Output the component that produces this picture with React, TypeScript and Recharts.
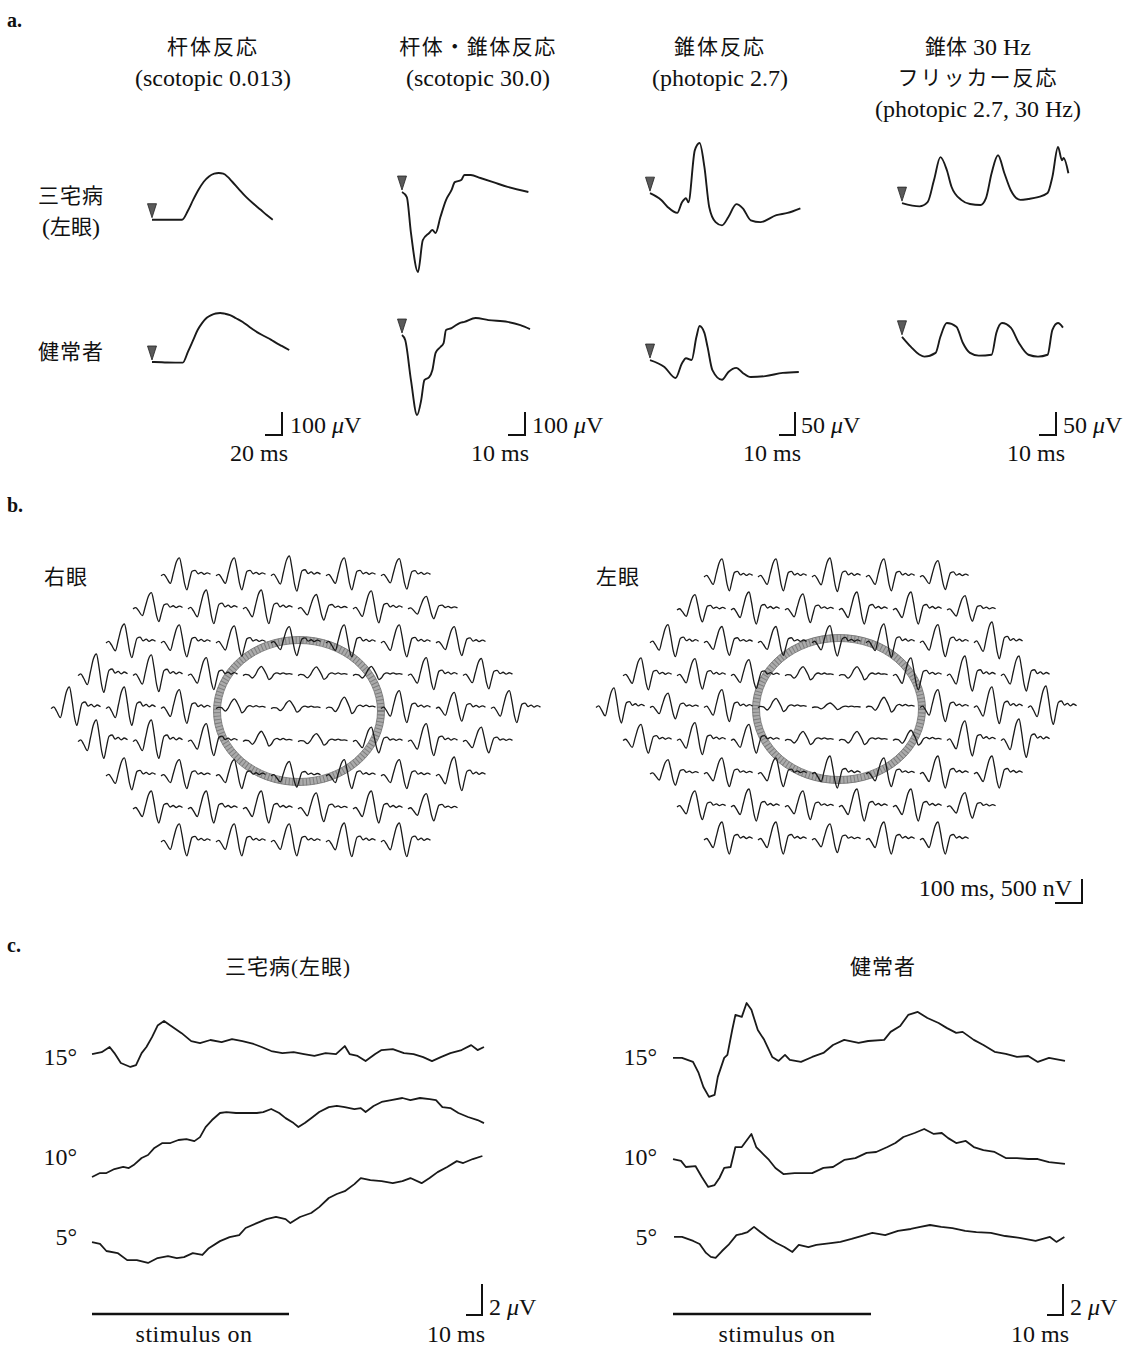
import React from "react";
import { LineChart, Line, XAxis, YAxis } from "recharts";

const FONT = '"Liberation Serif", "DejaVu Serif", "Noto Sans CJK JP", serif';
const INK = "#1a1a1a";

// ---- a. full-field ERG (t in ms, v in µV) ----
const rodPatT = [0, 3, 20, 40, 48, 55, 62, 69, 76, 83, 89, 95, 101, 107, 116, 125, 135, 145, 153, 161];
const rodPatV = [0, 0, 0, 0, 40, 87, 130, 165, 188, 200, 203, 200, 186, 165, 132, 100, 70, 43, 20, 0];
const rodNorT = [0, 3, 20, 41, 48, 55, 61, 67, 73, 79, 85, 91, 97, 104, 112, 121, 130, 140, 150, 159, 166, 173, 183];
const rodNorV = [0, 0, -2, -3, 45, 96, 140, 170, 192, 204, 211, 213, 210, 204, 190, 174, 152, 130, 112, 96, 82, 70, 52];

const mixPatT = [0, 3, 5.6, 10, 13, 17, 19, 21, 24, 27.5, 31, 33, 37, 39, 43, 49, 57, 66, 79];
const mixPatV = [0, -22, -178, -348, -209, -178, -165, -178, -109, -35, 9, 43, 52, 74, 74, 61, 43, 22, 0];
const mixNorT = [0, 2, 5.6, 9.4, 12, 14, 17, 19, 21, 24, 26, 27.5, 31, 33, 36, 39, 46, 54, 66, 74, 80];
const mixNorV = [0, -22, -196, -348, -283, -196, -183, -152, -78, -52, -35, 22, 30, 39, 52, 57, 74, 65, 57, 43, 26];

const conePatT = [0, 7, 11, 17, 20, 22.5, 24, 28, 31, 34, 37, 41, 45, 49, 54, 58, 63, 69, 79, 86, 94];
const conePatV = [0, -15, -30, -43, -20, -11, -20, 93, 109, 57, -30, -63, -70, -52, -24, -33, -59, -63, -48, -43, -33];
const coneNorT = [0, 9, 16, 20, 22.5, 26, 29, 31, 34, 36, 39, 45, 49, 54, 58, 63, 72, 83, 93];
const coneNorV = [0, -15, -39, -7, 4, 0, 50, 74, 59, 28, -22, -43, -26, -17, -28, -37, -35, -28, -26];

const flkPatT = [0, 11, 16, 20, 24, 28, 31, 37, 42.5, 49, 52.5, 56, 60, 64, 68, 74, 79, 85, 91, 94, 97.5, 100, 101, 104];
const flkPatV = [0, -7, 2, 50, 100, 72, 35, 7, -2, -4, 11, 65, 104, 65, 28, 7, 9, 13, 22, 57, 122, 93, 98, 65];
const flkNorT = [0, 5.6, 11, 14, 21, 24, 28, 34, 38, 42.5, 48, 56, 59, 62.5, 68, 73, 79, 85, 91, 94, 97.5, 100.6];
const flkNorV = [0, -22, -39, -43, -35, 0, 30, 22, -13, -35, -41, -39, 9, 30, 20, -13, -39, -43, -39, 15, 30, 20];

// ---- b. multifocal ERG (one response: t in ms, v in nV) ----
const MF_WINDOW = 200;
const MF_T = [0, 10, 20, 34, 45, 56, 67, 76, 86, 94, 103, 113, 124, 135, 146, 157, 168, 180];
const MF_PERIPH = [0, 30, -40, -150, 60, 280, 360, 150, -160, -280, -100, 90, 110, 40, 70, 30, 60, 30];
const MF_CENTRAL = [0, 30, 20, -60, 20, 160, 230, 150, 20, -100, -60, 40, 70, 40, 70, 40, 50, 30];

const rightAmp = [
  [1.0, 1.0, 1.1, 1.0, 0.95],
  [0.9, 1.05, 1.05, 0.8, 1.0, 0.7],
  [1.05, 1.0, 0.95, 0.9, 1.0, 1.0, 0.9],
  [1.2, 1.15, 1.0, 0.8, 0.75, 0.8, 1.0, 0.95],
  [1.2, 1.2, 1.05, 0.85, 0.7, 1.0, 1.0, 0.9, 1.0],
  [1.2, 1.2, 1.0, 0.9, 0.7, 0.8, 1.0, 0.8],
  [1.0, 0.9, 0.9, 0.8, 0.9, 0.9, 1.05],
  [1.0, 1.0, 1.0, 0.9, 1.0, 0.85],
  [1.0, 1.0, 1.0, 1.05, 1.05],
];
const rightKind = ["ppppp", "pppppp", "ppppppp", "pppcccpp", "pppcccppp", "pppccppp", "ppppppp", "pppppp", "ppppp"];

const leftAmp = [
  [1.0, 1.0, 1.05, 1.0, 0.9],
  [0.85, 1.0, 0.9, 1.0, 1.0, 0.8],
  [1.0, 0.9, 0.9, 0.95, 1.05, 1.0, 1.15],
  [1.0, 0.95, 0.9, 0.8, 0.8, 1.0, 1.1, 1.1],
  [1.1, 0.8, 1.0, 0.8, 0.4, 0.9, 1.0, 1.15, 1.2],
  [0.9, 1.0, 0.9, 0.8, 0.8, 0.9, 1.1, 1.2],
  [0.8, 0.9, 0.9, 1.0, 0.9, 1.0, 1.0],
  [0.9, 1.0, 0.9, 1.0, 1.0, 0.8],
  [1.0, 1.0, 0.9, 1.0, 1.0],
];
const leftKind = ["ppppp", "pppppp", "ppppppp", "pppccppp", "pppcccppp", "pppcccpp", "ppppppp", "pppppp", "ppppp"];

// ---- c. focal macular ERG (t in ms, v in µV) ----
const pat15T = [0, 6, 11, 14, 18, 24, 27.5, 31, 34, 37.5, 41, 45, 49, 56, 62, 67.5, 74, 81, 87.5, 94, 101, 106, 112, 119, 126, 132.5, 139, 146, 152.5, 158, 161, 166, 171, 177, 181, 188, 195, 201, 207, 212.5, 218, 224, 231, 237, 241, 245];
const pat15V = [0, 0.1, 0.37, 0.05, -0.47, -0.68, -0.58, 0.05, 0.37, 0.89, 1.5, 1.74, 1.5, 1.1, 0.68, 0.58, 0.74, 0.63, 0.79, 0.68, 0.53, 0.37, 0.16, 0.05, 0.1, 0, -0.1, 0.05, 0, 0.42, 0, -0.1, -0.37, 0, 0.21, 0.26, 0.05, 0, -0.16, -0.37, -0.16, 0.05, 0.21, 0.47, 0.21, 0.37];
const pat10T = [0, 5, 9, 14, 19.5, 23, 26, 31, 35, 39, 44, 49, 54, 59, 64, 67.5, 71, 75, 80, 84, 90, 96, 103, 107, 112, 117, 121, 126, 129, 133, 138, 142, 148, 153, 158, 164, 168, 171, 176, 181, 187, 194, 199, 205, 211, 215, 219, 224, 229, 235, 241, 245];
const pat10V = [0, 0.21, 0.21, 0.42, 0.53, 0.47, 0.63, 1.0, 1.16, 1.53, 1.79, 1.79, 1.95, 2.0, 1.89, 2.1, 2.63, 3.0, 3.37, 3.42, 3.37, 3.37, 3.37, 3.42, 3.58, 3.37, 3.1, 2.84, 2.63, 2.84, 3.16, 3.42, 3.68, 3.74, 3.68, 3.58, 3.63, 3.42, 3.74, 3.95, 4.05, 4.16, 4.05, 4.16, 4.1, 4.05, 3.68, 3.63, 3.37, 3.16, 3.0, 2.84];
const pat5T = [0, 5, 9, 16, 22, 28, 35, 41, 47.5, 53, 57.5, 63, 69, 73, 80, 86, 92, 96, 103, 109, 115, 121, 124, 130, 137, 142, 148, 153, 158, 164, 168, 174, 181, 188, 194, 199, 206, 211, 216, 222, 228, 232, 238, 244];
const pat5V = [0, -0.1, -0.47, -0.58, -0.95, -0.95, -1.1, -0.84, -0.74, -0.84, -0.79, -0.58, -0.68, -0.32, 0.05, 0.26, 0.37, 0.74, 1.0, 1.21, 1.32, 1.21, 1.0, 1.32, 1.53, 1.84, 2.32, 2.53, 2.68, 3.05, 3.37, 3.26, 3.21, 3.1, 3.21, 3.37, 3.1, 3.37, 3.68, 3.95, 4.26, 4.16, 4.37, 4.53];

const nor15T = [0, 5.6, 12.5, 16, 19, 22.5, 26, 28, 32, 34, 37, 39, 43, 46, 49, 53, 57, 62, 66, 70, 73, 80, 87, 94, 100, 107, 116, 122, 132, 136, 142, 147, 153, 159, 166, 171, 177, 181, 188, 194, 201, 208, 215, 222, 228, 235, 245];
const nor15V = [0, 0, -0.21, -0.79, -1.53, -2.05, -1.95, -1.0, 0, 0.16, 1.47, 2.26, 2.16, 2.89, 2.53, 1.47, 0.95, 0.05, -0.16, 0.16, -0.1, -0.21, 0.05, 0.26, 0.68, 0.95, 0.79, 0.89, 0.95, 1.37, 1.68, 2.26, 2.42, 2.1, 1.84, 1.58, 1.32, 1.37, 0.95, 0.68, 0.32, 0.21, 0.05, 0.1, -0.21, 0, -0.16];
const nor10T = [0, 5, 8, 14, 18, 22, 26, 29, 32, 36, 39, 43, 49, 52, 55, 60, 64, 69, 76, 83, 87, 94, 100, 107, 114, 121, 127, 134, 139, 144, 151, 157, 163, 168, 172, 177, 183, 188, 194, 201, 208, 215, 222, 228, 235, 245];
const nor10V = [0, -0.1, -0.42, -0.37, -0.95, -1.47, -1.37, -1.0, -0.47, -0.42, 0.63, 0.63, 1.32, 0.63, 0.37, -0.05, -0.47, -0.79, -0.74, -0.74, -0.74, -0.47, -0.42, -0.05, 0.05, 0.32, 0.37, 0.63, 0.84, 1.16, 1.37, 1.58, 1.32, 1.37, 1.1, 0.84, 0.95, 0.63, 0.47, 0.37, 0.05, 0.05, 0, 0, -0.16, -0.26];
const nor5T = [0, 5, 12, 16, 20, 23, 26, 30, 34, 39, 42.5, 46, 50, 54, 59, 64, 69, 74, 78, 84, 89, 98, 104, 111, 117, 124, 132, 140, 148, 154, 160, 167, 174, 182, 189, 198, 207, 216, 226, 235, 239, 244];
const nor5V = [0, 0, -0.21, -0.37, -0.84, -1.05, -1.1, -0.74, -0.42, 0.1, 0.16, 0.26, 0.53, 0.26, -0.05, -0.32, -0.53, -0.79, -0.42, -0.53, -0.42, -0.32, -0.26, -0.1, 0.05, 0.21, 0.1, 0.32, 0.42, 0.53, 0.63, 0.53, 0.47, 0.32, 0.26, 0.21, 0.05, -0.05, -0.21, 0, -0.26, 0];

const rightRowsY = [576, 609, 643, 676, 709, 742, 776, 809, 842];
const leftRowsY = [577, 610, 643, 676, 708, 741, 774, 807, 840];

function mfRow(amps: number[], kinds: string) {
  const t: number[] = [];
  const v: (number | null)[] = [];
  amps.forEach((a, k) => {
    const shape = kinds[k] === "c" ? MF_CENTRAL : MF_PERIPH;
    MF_T.forEach((tt, i) => {
      t.push(k * MF_WINDOW + tt);
      v.push(shape[i] * a);
    });
    t.push(k * MF_WINDOW + 190);
    v.push(null);
  });
  return { t, v };
}

const markerDot = (props: any) => {
  const { cx, cy, index } = props;
  if (index !== 0 || cx == null) return <g key={`d${index}`} />;
  return (
    <path
      key="marker"
      d={`M${cx - 4.5},${cy - 16} L${cx + 4.5},${cy - 16} L${cx},${cy - 2} Z`}
      fill="#5a5a5a"
      stroke="#222"
      strokeWidth={0.8}
    />
  );
};

type TraceProps = {
  t: number[];
  v: (number | null)[];
  x0: number;
  y0: number;
  sx: number;
  sy: number;
  width?: number;
  curve?: "monotone" | "linear";
  marker?: boolean;
};

/** One waveform, placed so that t=0 / v=0 lands on (x0, y0). */
function Trace({ t, v, x0, y0, sx, sy, width = 1.9, curve = "monotone", marker }: TraceProps) {
  const data = t.map((tt, i) => ({ t: tt, v: v[i] }));
  const vals = v.filter((x): x is number => x != null);
  const padT = 12 / sx;
  const padV = 22 / sy;
  const tMin = Math.min(...t) - padT;
  const tMax = Math.max(...t) + padT;
  const vMin = Math.min(...vals) - padV;
  const vMax = Math.max(...vals) + padV;
  const w = (tMax - tMin) * sx;
  const h = (vMax - vMin) * sy;
  return (
    <div style={{ position: "absolute", left: x0 + tMin * sx, top: y0 - vMax * sy, width: w, height: h }}>
      <LineChart width={w} height={h} data={data} margin={{ top: 0, right: 0, bottom: 0, left: 0 }}>
        <XAxis type="number" dataKey="t" domain={[tMin, tMax]} hide />
        <YAxis type="number" domain={[vMin, vMax]} hide />
        <Line
          dataKey="v"
          type={curve}
          stroke={INK}
          strokeWidth={width}
          strokeLinejoin="round"
          dot={marker ? markerDot : false}
          activeDot={false}
          connectNulls={false}
          isAnimationActive={false}
        />
      </LineChart>
    </div>
  );
}

function Txt({ x, y, children, anchor = "middle", size = 24, weight = 400, ls = 0 }: any) {
  return (
    <text x={x} y={y} textAnchor={anchor} dominantBaseline="central" fontSize={size} fontWeight={weight} letterSpacing={ls} fill="#111">
      {children}
    </text>
  );
}

// CJK label (a little smaller than the Latin serif text, as in the print)
const J = ({ children }: any) => <tspan fontSize={21}>{children}</tspan>;

function ScaleBar({ x, y, w, h }: { x: number; y: number; w: number; h: number }) {
  return <path d={`M${x - w},${y} H${x} V${y - h}`} fill="none" stroke="#111" strokeWidth={2} />;
}

const Mu = () => <tspan fontStyle="italic">μ</tspan>;

function Ring({ cx, cy, rx, ry }: { cx: number; cy: number; rx: number; ry: number }) {
  return (
    <g fill="none">
      <ellipse cx={cx} cy={cy} rx={rx} ry={ry} stroke="#ababab" strokeWidth={7} />
      <ellipse cx={cx} cy={cy} rx={rx} ry={ry} stroke="#7e7e7e" strokeWidth={7} strokeDasharray="1 2.5" />
      <ellipse cx={cx} cy={cy} rx={rx + 3.5} ry={ry + 3.5} stroke="#707070" strokeWidth={0.8} />
      <ellipse cx={cx} cy={cy} rx={rx - 3.5} ry={ry - 3.5} stroke="#707070" strokeWidth={0.8} />
    </g>
  );
}

export default function App() {
  const mfRight = rightAmp.map((a, r) => ({ ...mfRow(a, rightKind[r]), n: a.length, y: rightRowsY[r] }));
  const mfLeft = leftAmp.map((a, r) => ({ ...mfRow(a, leftKind[r]), n: a.length, y: leftRowsY[r] }));
  const RP = 55;
  const LP = 54;

  return (
    <div style={{ position: "absolute", left: 0, top: 0, width: 1124, height: 1347, background: "#fff", fontFamily: FONT, overflow: "hidden" }}>
      <style>{`.recharts-surface{overflow:visible}`}</style>
      <svg width={1124} height={1347} style={{ position: "absolute", left: 0, top: 0 }} fontFamily={FONT}>
        {/* panel letters */}
        <Txt x={7} y={20} anchor="start" size={20} weight={700}>a.</Txt>
        <Txt x={7} y={505} anchor="start" size={20} weight={700}>b.</Txt>
        <Txt x={7} y={945} anchor="start" size={20} weight={700}>c.</Txt>

        {/* a. headers */}
        <Txt x={213} y={47} ls={2}><J>杆体反応</J></Txt>
        <Txt x={213} y={78}>(scotopic 0.013)</Txt>
        <Txt x={478} y={47} ls={1.5}><J>杆体・錐体反応</J></Txt>
        <Txt x={478} y={78}>(scotopic 30.0)</Txt>
        <Txt x={720} y={47} ls={2}><J>錐体反応</J></Txt>
        <Txt x={720} y={78}>(photopic 2.7)</Txt>
        <Txt x={978} y={47}><J>錐体</J> 30 Hz</Txt>
        <Txt x={978} y={78} ls={2}><J>フリッカー反応</J></Txt>
        <Txt x={978} y={109}>(photopic 2.7, 30 Hz)</Txt>
        <Txt x={71} y={196} ls={1}><J>三宅病</J></Txt>
        <Txt x={71} y={227}>(<J>左眼</J>)</Txt>
        <Txt x={71} y={352} ls={1}><J>健常者</J></Txt>

        {/* a. scale bars */}
        <ScaleBar x={282} y={435} w={17} h={23} />
        <Txt x={290} y={425} anchor="start">100 <Mu />V</Txt>
        <Txt x={259} y={453}>20 ms</Txt>
        <ScaleBar x={525} y={435} w={17} h={23} />
        <Txt x={532} y={425} anchor="start">100 <Mu />V</Txt>
        <Txt x={500} y={453}>10 ms</Txt>
        <ScaleBar x={795} y={435} w={16} h={23} />
        <Txt x={801} y={425} anchor="start">50 <Mu />V</Txt>
        <Txt x={772} y={453}>10 ms</Txt>
        <ScaleBar x={1056} y={435} w={17} h={23} />
        <Txt x={1063} y={425} anchor="start">50 <Mu />V</Txt>
        <Txt x={1036} y={453}>10 ms</Txt>

        {/* b. */}
        <Txt x={66} y={577} ls={1}><J>右眼</J></Txt>
        <Txt x={618} y={577} ls={1}><J>左眼</J></Txt>
        <Ring cx={299} cy={711} rx={82} ry={71} />
        <Ring cx={839} cy={709} rx={83} ry={71} />
        <Txt x={1072} y={888} anchor="end">100 ms, 500 nV</Txt>
        <ScaleBar x={1082} y={903} w={27} h={24} />

        {/* c. */}
        <Txt x={288} y={967} ls={1}><J>三宅病(左眼)</J></Txt>
        <Txt x={883} y={967} ls={1}><J>健常者</J></Txt>
        <Txt x={77} y={1057} anchor="end">15°</Txt>
        <Txt x={77} y={1157} anchor="end">10°</Txt>
        <Txt x={77} y={1237} anchor="end">5°</Txt>
        <Txt x={657} y={1057} anchor="end">15°</Txt>
        <Txt x={657} y={1157} anchor="end">10°</Txt>
        <Txt x={657} y={1237} anchor="end">5°</Txt>
        <path d="M92,1314 H289" stroke="#111" strokeWidth={2.5} />
        <path d="M673,1314 H871" stroke="#111" strokeWidth={2.5} />
        <Txt x={194} y={1334} ls={0.5}>stimulus on</Txt>
        <Txt x={777} y={1334} ls={0.5}>stimulus on</Txt>
        <ScaleBar x={482} y={1315} w={16} h={31} />
        <Txt x={489} y={1307} anchor="start">2 <Mu />V</Txt>
        <Txt x={456} y={1334}>10 ms</Txt>
        <ScaleBar x={1063} y={1315} w={16} h={31} />
        <Txt x={1070} y={1307} anchor="start">2 <Mu />V</Txt>
        <Txt x={1040} y={1334}>10 ms</Txt>
      </svg>

      {/* a. traces */}
      <Trace t={rodPatT} v={rodPatV} x0={152} y0={220} sx={0.75} sy={0.23} marker />
      <Trace t={rodNorT} v={rodNorV} x0={152} y0={362} sx={0.75} sy={0.23} marker />
      <Trace t={mixPatT} v={mixPatV} x0={402} y0={192} sx={1.6} sy={0.23} marker />
      <Trace t={mixNorT} v={mixNorV} x0={402} y0={335} sx={1.6} sy={0.23} marker />
      <Trace t={conePatT} v={conePatV} x0={650} y0={193} sx={1.6} sy={0.46} marker />
      <Trace t={coneNorT} v={coneNorV} x0={650} y0={360} sx={1.6} sy={0.46} marker />
      <Trace t={flkPatT} v={flkPatV} x0={902} y0={203} sx={1.6} sy={0.46} marker />
      <Trace t={flkNorT} v={flkNorV} x0={902} y0={337} sx={1.6} sy={0.46} marker />

      {/* b. mfERG arrays */}
      {mfRight.map((row, r) => (
        <Trace key={`r${r}`} t={row.t} v={row.v} x0={298 - (row.n * RP) / 2} y0={row.y} sx={RP / MF_WINDOW} sy={0.05} width={1.3} />
      ))}
      {mfLeft.map((row, r) => (
        <Trace key={`l${r}`} t={row.t} v={row.v} x0={839 - (row.n * LP) / 2} y0={row.y} sx={LP / MF_WINDOW} sy={0.05} width={1.3} />
      ))}

      {/* c. focal ERG */}
      <Trace t={pat15T} v={pat15V} x0={92} y0={1054} sx={1.6} sy={19} curve="linear" width={1.8} />
      <Trace t={pat10T} v={pat10V} x0={92} y0={1177} sx={1.6} sy={19} curve="linear" width={1.8} />
      <Trace t={pat5T} v={pat5V} x0={92} y0={1242} sx={1.6} sy={19} curve="linear" width={1.8} />
      <Trace t={nor15T} v={nor15V} x0={673} y0={1058} sx={1.6} sy={19} curve="linear" width={1.8} />
      <Trace t={nor10T} v={nor10V} x0={673} y0={1159} sx={1.6} sy={19} curve="linear" width={1.8} />
      <Trace t={nor5T} v={nor5V} x0={674} y0={1237} sx={1.6} sy={19} curve="linear" width={1.8} />
    </div>
  );
}
